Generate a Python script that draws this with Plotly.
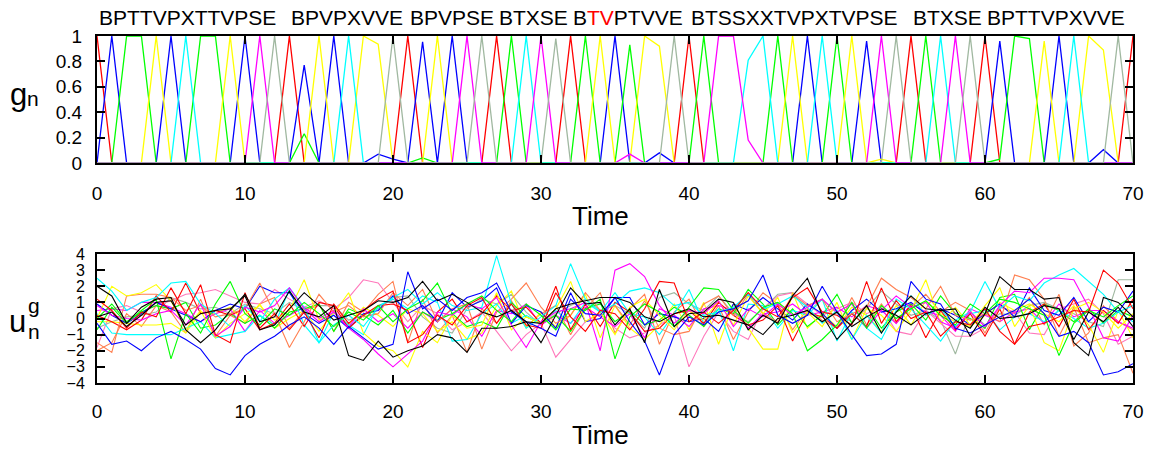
import plotly.graph_objects as go

# ---------------- data ----------------
time = list(range(71))

# top panel: gating values g_n per symbol
g_B = [1,0,0,0,0,0,0,0,0,0, 0,0,0,1,0,0,0,0,0,0, 0,1,0,0,0,0,0,1,0,0,
       0,0,1,0,0,0,0,0,0,0, 1,0,0,0,0,0,0,0,0,0, 0,0,0,0,0,1,0,0,0,0,
       1,0,0,0,0,0,0,0,0,0, 1]
g_P = [0,1,0,0,0,1,0,0,0,0, 1,0,0,0,0.77,0,1,0,0,0.07, 0.03,0,0.955,0,1,0,0,0,0,0,
       0,0,0,0,0,1,0,0,0.08,0, 0,0,0,0,0,0,0,0,1,0, 0,0,0.96,0,0,0,0,0,0,0,
       0,0.96,0,0,0,1,0,0,0.105,0, 0]
g_T = [0,0,1,1,0,0,0,1,1,0, 0,0,0,0,0.23,0,0,0,0,0, 0,0,0.04,0,0,0,0,0,1,0,
       0,0,0,1,0,0,0.93,0,0,0, 0,1,0,0,0,0,1,0,0,0, 1,0,0,0,0,0,1,0,0,0,
       0,0.03,1,0.98,0,0,0,0,0,0, 0]
g_V = [0,0,0,0,1,0,0,0,0,1, 0,0,0,0,0,1,0,0,1,0.935, 0,0,0,1,0,0,0,0,0,0,
       0,0,0,0,1,0,0,1,0.92,0, 0,0,0,0,0,0,0,1,0,0, 0,1,0,0.03,0,0,0,0,0,0,
       0,0,0,0,0.96,0,0,1,0.89,0, 0]
g_X = [0,0,0,0,0,0,1,0,0,0, 0,0,0,0,0,0,0,1,0,0, 0,0,0,0,0,0,0,0,0,1,
       0,0,0,0,0,0,0,0,0,0, 0,0,0,0,0.81,1,0,0,0,1, 0,0,0,0,0,0,0,1,0,0,
       0,0,0,0,0,0,1,0,0,0, 0]
g_S = [0,0,0,0,0,0,0,0,0,0, 0,1,0,0,0,0,0,0,0,0, 0,0,0,0,0,1,0,0,0,0,
       1,0,0,0,0,0,0.07,0,0,0, 0,0,1,1,0.18,0,0,0,0,0, 0,0,0,1,0,0,0,0,1,0,
       0,0,0,0,0,0,0,0,0,0, 0]
g_E = [0,0,0,0,0,0,0,0,0,0, 0,0,1,0,0,0,0,0,0,0, 1,0,0,0,0,0,1,0,0,0,
       0,0.98,0,0,0,0,0,0,0,1, 0,0,0,0,0,0,0,0,0,0, 0,0,0,0,1,0,0,0,0,1,
       0,0,0,0,0,0,0,0,0,1, 0]

symbols = ["B", "P", "T", "V", "X", "S", "E"]
sym_colors = ["#ff0000", "#0000ff", "#00ff00", "#ffff00", "#00ffff", "#ff00ff", "#a0b8a0"]
g_series = [g_B, g_P, g_T, g_V, g_X, g_S, g_E]

# sequence words and their start times
words = ["BPTTVPXTTVPSE", "BPVPXVVE", "BPVPSE", "BTXSE",
         "B<span style='color:#ff0000'>TV</span>PTVVE",
         "BTSSXXTVPXTVPSE", "BTXSE", "BPTTVPXVVE"]
word_start = [0, 13, 21, 27, 32, 40, 55, 60]

# bottom panel: u_n^g components
u_red_a = [1.2,0.5,-0.6,0.4,0.1,1.9,0.3,2.1,-1.0,-1.5,
           1.6,-0.6,0.3,-0.7,0.4,-1.2,0.9,-0.3,0.5,1.2,
           1.7,-1.5,-1.0,0.2,-0.4,0.8,1.3,-0.3,0.9,-0.4,
           -0.6,1.6,0.1,-0.8,0.5,0.3,-0.7,0.6,2.3,2.2,
           -0.2,0.4,-0.3,0.5,1.6,0.6,0.1,1.3,1.9,0.4,
           0.2,-0.4,2.3,-0.3,1.1,0.0,0.4,-1.1,-0.2,-0.4,
           0.6,-0.8,-1.6,-0.5,-0.3,0.1,0.5,0.4,3.0,2.2,
           0.6]
u_red_b = [0.2,-0.2,-0.7,-0.1,1.4,0.4,2.2,0.3,0.5,0.2,
           0.6,-0.7,-0.3,0.9,-0.5,1.0,0.8,-0.6,0.2,0.8,
           0.9,0.5,-1.8,0.4,1.2,-0.2,0.3,1.4,0.5,0.7,
           -0.3,2.0,-0.7,0.9,-0.5,1.0,0.4,-0.8,-0.6,0.3,
           0.5,-0.3,1.0,0.2,-0.4,-0.1,0.8,-1.4,0.4,0.1,
           -0.6,0.3,-0.5,1.9,-0.2,0.8,-1.2,0.5,-0.7,0.3,
           -1.1,0.6,-1.6,0.4,0.9,-0.5,1.2,-0.7,0.5,-0.3,
           1.2]
u_blue_a = [-0.3,-1.6,-1.4,-2.0,-1.2,-0.8,-1.3,-1.9,-3.1,-3.5,
            -2.3,-1.6,-1.1,-0.4,0.1,-0.6,-1.6,-0.5,-1.2,-1.9,
            -1.6,2.9,0.6,1.2,0.5,1.3,1.6,2.2,0.4,-0.2,
            -0.6,-1.1,1.2,0.3,0.2,1.3,-0.2,-1.4,-3.5,-1.0,
            0.1,-0.4,0.4,0.6,1.1,2.7,0.2,-0.3,0.2,2.0,
            0.4,-1.0,-2.3,-2.2,-1.6,2.3,1.2,0.9,-0.6,-0.9,
            -0.4,0.1,0.5,1.2,0.3,-1.1,-0.8,-1.5,-3.5,-3.3,
            -2.8]
u_blue_b = [0.9,0.2,-0.3,0.3,1.0,0.6,0.2,-0.2,0.5,0.9,
            0.6,2.0,1.6,1.6,0.3,-0.3,0.2,-0.6,0.3,0.5,
            1.4,0.3,0.8,-0.2,1.6,0.7,1.1,1.9,-0.3,0.8,
            0.4,-0.6,1.6,-0.2,0.0,1.3,1.3,-0.4,0.3,0.1,
            -0.2,0.0,-0.8,0.9,0.5,1.3,0.6,-0.1,0.9,0.3,
            -0.6,0.5,1.2,0.4,0.6,1.0,0.3,0.6,0.2,-0.4,
            0.3,0.9,0.1,1.9,0.5,0.2,1.3,-0.2,0.7,0.4,
            1.7]
u_green_a = [-0.7,0.7,-0.3,0.5,1.2,-2.5,0.3,-0.9,0.9,2.3,
             0.3,-0.4,0.6,0.2,1.0,0.3,-0.5,0.4,-0.1,0.8,
             -0.2,0.6,1.1,2.2,0.3,0.9,1.4,0.5,-0.2,0.9,
             0.2,-0.7,0.6,0.5,1.2,-2.5,0.1,0.9,0.4,-0.5,
             0.7,1.9,1.8,0.5,-0.3,0.7,1.0,0.3,-2.0,-1.3,
             -0.4,1.0,-0.6,0.8,0.0,0.6,1.1,0.2,-0.4,0.9,
             0.3,1.2,1.0,0.6,0.2,-2.3,-0.3,0.5,0.1,0.8,
             1.4]
u_green_b = [0.0,0.9,-0.2,0.4,0.8,0.6,1.0,-0.6,-0.4,0.3,
             -0.3,0.2,-0.6,0.4,0.6,0.9,-0.8,0.6,0.2,-0.4,
             0.5,-0.9,0.4,-0.1,0.3,-0.5,-0.2,-0.6,1.0,0.1,
             -0.3,0.2,-0.8,0.6,0.9,-0.2,0.5,-0.4,-0.1,0.7,
             0.2,-0.5,0.6,0.3,1.8,0.9,-0.4,0.6,-0.5,0.2,
             1.5,-0.3,0.8,-0.6,0.4,0.9,-0.1,1.4,0.3,0.0,
             -0.6,1.3,1.5,-0.7,0.9,0.5,-0.2,0.6,-0.3,0.5,
             0.1]
u_yellow_a = [0.0,2.0,1.4,1.6,2.1,1.1,-0.7,0.5,-1.2,-0.3,
              0.3,0.8,-0.1,0.5,2.4,-0.1,0.3,1.6,-0.9,-1.7,
              -2.0,-3.0,-0.8,-1.5,0.2,-0.6,-0.4,1.6,-0.7,0.1,
              -0.3,0.6,2.3,-0.2,0.4,-1.0,0.7,1.2,0.2,-0.7,
              0.5,-0.1,1.1,-0.4,1.4,0.3,1.3,-0.9,0.4,-0.5,
              1.0,-1.3,0.6,0.2,-0.8,0.5,2.4,-0.3,0.7,-0.4,
              0.8,1.9,-0.5,0.8,-1.5,-2.0,0.6,1.0,0.4,-0.6,
              0.3]
u_yellow_b = [-0.2,-0.2,-0.3,-0.4,-0.4,-0.3,-0.9,0.4,0.3,0.7,
              -0.2,0.9,-0.6,0.0,0.5,-0.8,0.4,-0.4,0.7,0.2,
              -0.5,0.6,0.3,-0.8,-0.2,-1.3,-0.9,0.8,1.7,-0.6,
              0.4,-0.5,0.2,1.5,-1.2,0.8,-0.6,-1.3,-0.4,0.9,
              -0.7,1.0,-1.6,0.9,-0.6,-1.9,-1.9,1.6,-0.6,0.3,
              -0.5,0.7,0.2,-0.8,0.8,-0.4,1.1,0.3,-0.2,-0.5,
              0.2,1.0,0.5,0.9,0.3,-0.2,0.8,-0.4,-2.1,0.5,
              -1.2]
u_cyan_a = [2.5,1.7,0.5,1.0,1.3,2.2,2.3,0.9,0.3,-0.5,
            0.8,-0.2,1.2,1.9,0.7,-1.5,-0.4,0.2,-0.5,0.7,
            1.3,1.8,0.9,1.6,0.8,0.5,0.7,3.9,0.9,-0.6,
            0.1,0.8,3.4,1.2,0.4,0.9,1.7,1.9,1.6,0.8,
            1.0,0.2,0.4,0.7,1.5,0.6,0.9,1.4,0.7,-0.3,
            0.5,-1.3,0.2,-0.9,1.2,0.6,-0.4,-1.4,-0.1,0.4,
            2.3,0.6,1.4,1.1,2.2,2.7,3.1,2.3,1.5,0.4,
            0.8]
u_cyan_b = [0.3,-0.9,-1.0,-1.0,-1.0,-1.0,-0.6,-0.2,-1.2,-1.0,
            -0.8,0.2,-0.4,1.8,-0.4,-1.5,0.4,-0.4,-1.0,0.8,
            1.2,0.6,1.4,1.0,-1.4,-1.3,0.3,0.9,-0.3,0.2,
            -0.3,0.5,-0.3,1.0,0.4,1.6,0.3,0.1,-1.0,0.3,
            1.8,-0.3,0.6,-2.0,0.9,0.8,-0.6,0.5,0.2,1.2,
            -1.4,0.4,-0.6,-1.3,0.5,1.4,0.2,0.6,-0.5,0.3,
            0.5,-0.7,0.1,0.3,-0.2,0.5,0.0,-0.6,-0.3,0.4,
            -0.2]
u_magenta_a = [0.8,0.2,0.0,-0.1,0.3,0.5,-0.4,0.9,-1.1,-0.5,
               0.7,0.4,0.8,1.9,0.6,-0.2,0.4,-0.6,-1.3,-2.2,
               -3.0,-2.2,-1.4,0.4,0.2,0.9,0.6,1.3,-0.4,-1.8,
               -0.2,0.4,0.6,1.0,-2.0,3.0,3.4,2.6,0.8,-0.3,
               0.5,0.3,1.1,-0.5,0.6,0.1,0.9,0.2,0.7,1.2,
               0.4,0.9,-0.6,0.5,1.4,0.7,1.0,-0.2,-0.6,0.4,
               -0.5,0.8,1.7,1.6,2.5,2.5,2.4,0.7,-1.2,-1.4,
               0.2]
u_magenta_b = [0.5,0.6,0.5,1.0,1.0,0.7,0.3,-0.2,0.3,0.6,
               -0.8,0.5,-0.3,0.2,0.7,0.0,0.5,-0.5,0.6,-0.2,
               0.3,-0.6,0.4,-0.2,0.6,0.1,-1.1,0.5,0.3,0.9,
               -0.4,0.2,-0.3,0.7,0.1,-0.5,0.3,-1.2,0.6,0.2,
               -0.5,0.6,0.8,0.5,-0.6,0.3,0.4,0.9,0.2,0.4,
               0.7,0.1,0.8,0.5,-0.3,0.9,0.4,0.2,-0.8,0.6,
               0.2,-0.2,0.4,0.6,-0.3,0.9,0.1,0.5,0.5,-0.2,
               -0.6]
u_gray_a = [-0.6,-0.2,0.1,0.2,0.4,1.3,1.0,0.6,0.7,0.3,
            0.9,0.6,0.3,1.0,0.5,0.8,0.8,-0.1,0.2,0.6,
            1.3,1.4,0.1,-0.6,-0.9,0.6,1.2,0.9,1.5,0.4,
            -0.4,0.3,0.8,1.2,0.5,0.8,0.3,-0.6,1.3,1.6,
            0.9,0.5,1.4,0.3,-0.2,0.6,1.5,1.6,0.4,1.2,
            0.3,-0.2,0.6,1.7,0.9,0.2,0.5,-0.1,-2.2,0.4,
            -0.4,0.3,0.2,0.8,1.0,0.6,0.3,-0.2,-0.5,2.4,
            2.4]
u_black_a = [2.0,1.4,-0.3,0.7,1.2,1.3,-0.7,-1.5,-0.7,0.5,
             1.5,-0.2,0.1,1.7,0.4,0.1,0.8,-2.3,-2.6,-1.4,
             -2.4,-2.0,-1.7,-1.0,-1.2,-2.1,-0.6,-0.6,-0.5,-0.2,
             -1.5,0.2,1.9,0.9,1.0,-0.4,0.6,-1.5,1.8,-0.5,
             0.3,0.4,1.2,1.0,-0.7,0.2,-0.3,1.4,2.5,0.2,
             -1.3,-0.3,0.8,-0.9,0.4,1.4,0.6,0.5,0.6,-1.1,
             0.3,2.6,1.8,1.8,1.2,1.3,-1.5,-2.3,1.3,1.0,
             0.1]
u_black_b = [0.1,0.4,-0.5,0.2,1.0,1.1,-0.4,0.3,0.5,0.6,
             1.4,-0.7,-0.4,0.6,1.6,0.8,-0.1,0.2,0.5,1.1,
             1.0,1.3,2.3,1.1,1.5,1.0,0.4,0.1,0.5,-0.2,
             -0.3,0.6,0.9,1.1,1.3,1.3,1.0,0.1,-0.2,0.3,
             0.6,0.1,0.2,-0.1,-0.4,-1.0,0.0,0.2,0.5,-0.2,
             0.4,-0.5,0.1,0.6,0.2,-0.4,0.3,0.6,-0.1,-0.6,
             0.7,0.0,0.1,0.3,0.8,0.6,-1.3,0.4,-0.2,0.7,
             -0.5]
u_coral_a = [-1.5,-2.1,1.4,1.5,1.5,1.3,0.5,0.8,0.1,0.3,
             0.6,2.2,0.3,-1.8,-0.2,1.5,0.4,0.8,0.1,0.3,
             1.6,0.8,1.8,-0.2,0.6,0.9,-1.9,0.4,1.2,2.2,
             0.7,-0.3,0.2,1.6,0.5,0.8,-0.4,1.1,-0.6,-1.0,
             -0.8,0.9,1.4,0.2,1.5,0.3,-0.2,1.5,0.8,1.2,
             -0.2,0.3,0.7,2.5,1.8,1.3,0.6,2.0,0.2,-0.1,
             0.3,-0.2,2.7,2.4,1.2,-1.1,0.7,-1.5,-1.2,-1.0,
             -3.4]
u_coral_b = [-2.0,-1.5,0.3,-0.5,0.8,0.4,-0.9,1.2,-1.1,0.2,
             -0.3,0.9,1.3,-0.6,0.5,0.9,-0.8,1.0,0.4,1.5,
             2.3,-1.5,1.2,-0.9,0.2,-2.1,0.6,-0.3,1.1,-0.5,
             0.3,0.8,-1.0,0.6,1.6,-0.9,0.6,1.5,-1.6,0.4,
             1.2,-0.5,0.8,-1.3,0.4,1.6,0.9,-0.7,0.6,-0.1,
             -0.6,1.3,-0.4,0.9,-0.3,0.7,1.5,0.4,1.0,0.5,
             -0.9,0.8,0.3,1.3,-0.4,1.5,-1.7,-0.9,0.8,-0.2,
             -0.7]
u_pink_a = [-1.8,0.6,0.8,0.4,0.8,1.1,1.5,1.6,1.8,1.4,
            1.0,0.9,1.8,1.2,0.7,1.1,0.6,1.3,2.4,2.2,
            1.0,-0.2,0.8,0.3,-0.7,-0.2,0.4,-0.8,-2.0,-1.0,
            -0.3,-2.4,-1.3,-0.2,0.3,-0.6,-1.2,-0.9,-0.4,0.2,
            -3.0,-1.1,0.4,-0.8,-1.3,0.6,1.4,1.6,0.9,0.2,
            0.6,1.0,0.3,0.7,-0.8,-1.0,0.5,-0.3,-1.1,-1.1,
            -0.6,0.7,0.4,-0.9,-1.0,0.6,0.9,1.2,0.3,-1.6,
            -1.1]

u_series = [u_gray_a, u_coral_b, u_pink_a, u_yellow_b, u_magenta_b, u_green_b,
            u_cyan_b, u_blue_b, u_red_b, u_coral_a, u_yellow_a, u_cyan_a,
            u_magenta_a, u_green_a, u_red_a, u_blue_a, u_black_b, u_black_a]
u_colors = ["#a0b8a0", "#ff7f50", "#ff77bb", "#ffff00", "#ff00ff", "#00ff00",
            "#00ffff", "#0000ff", "#ff0000", "#ff7f50", "#ffff00", "#00ffff",
            "#ff00ff", "#00ff00", "#ff0000", "#0000ff", "#000000", "#000000"]

# ---------------- figure ----------------
W, H = 1158, 453
L, R, T, B = 97, 25, 36, 70
PH = H - T - B
PW = W - L - R
def py(p):  # pixel y -> paper y
    return (H - B - p) / PH
def px(p):
    return (p - L) / PW

fig = go.Figure()
for name, ys, c in zip(symbols, g_series, sym_colors):
    fig.add_trace(go.Scatter(x=time, y=ys, mode="lines", name=name,
                             line=dict(color=c, width=1.3), xaxis="x", yaxis="y"))
for ys, c in zip(u_series, u_colors):
    fig.add_trace(go.Scatter(x=time, y=ys, mode="lines",
                             line=dict(color=c, width=1.1), xaxis="x2", yaxis="y2"))

FONT = "Liberation Sans"
tickfont = dict(family=FONT, size=19, color="black")
axis_common = dict(showline=True, linewidth=2, linecolor="black", mirror="ticks",
                   ticks="inside", ticklen=8, tickwidth=2, tickcolor="black",
                   showgrid=False, zeroline=False)

fig.update_layout(
    width=W, height=H,
    margin=dict(l=L, r=R, t=T, b=B, pad=0),
    paper_bgcolor="white", plot_bgcolor="white",
    showlegend=False,
    xaxis=dict(domain=[0, 1], range=[0, 70], tickvals=[0, 10, 20, 30, 40, 50, 60, 70],
               anchor="y", ticklabelstandoff=12, tickfont=tickfont, **axis_common),
    yaxis=dict(domain=[py(163), 1], range=[0, 1],
               tickvals=[0, 0.2, 0.4, 0.6, 0.8, 1],
               ticktext=["0", "0.2", "0.4", "0.6", "0.8", "1"],
               anchor="x", ticklabelstandoff=9, tickfont=tickfont, **axis_common),
    xaxis2=dict(domain=[0, 1], range=[0, 70], tickvals=[0, 10, 20, 30, 40, 50, 60, 70],
                anchor="y2", ticklabelstandoff=10, tickfont=tickfont, **axis_common),
    yaxis2=dict(domain=[0, py(254)], range=[-4, 4],
                tickvals=[-4, -3, -2, -1, 0, 1, 2, 3, 4],
                anchor="x2", ticklabelstandoff=7,
                tickfont=dict(family=FONT, size=16, color="black"), **axis_common),
)

ann = []
for w, s in zip(words, word_start):
    ann.append(dict(x=s, y=py(18), xref="x", yref="paper", text=w, showarrow=False,
                    xanchor="left", yanchor="middle",
                    font=dict(family=FONT, size=21, color="black")))
# axis titles
for yy in (216, 435):
    ann.append(dict(x=px(600), y=py(yy), xref="paper", yref="paper", text="Time",
                    showarrow=False, xanchor="center", yanchor="middle",
                    font=dict(family=FONT, size=26, color="black")))
# g_n
ann.append(dict(x=px(18), y=py(94), xref="paper", yref="paper", text="g", showarrow=False,
                xanchor="center", yanchor="middle", font=dict(family=FONT, size=31, color="black")))
ann.append(dict(x=px(33), y=py(99), xref="paper", yref="paper", text="n", showarrow=False,
                xanchor="center", yanchor="middle", font=dict(family=FONT, size=21, color="black")))
# u_n^g
ann.append(dict(x=px(17), y=py(321), xref="paper", yref="paper", text="u", showarrow=False,
                xanchor="center", yanchor="middle", font=dict(family=FONT, size=31, color="black")))
ann.append(dict(x=px(34), y=py(305), xref="paper", yref="paper", text="g", showarrow=False,
                xanchor="center", yanchor="middle", font=dict(family=FONT, size=21, color="black")))
ann.append(dict(x=px(34), y=py(331), xref="paper", yref="paper", text="n", showarrow=False,
                xanchor="center", yanchor="middle", font=dict(family=FONT, size=21, color="black")))
fig.update_layout(annotations=ann)

fig.write_html("out.html")
